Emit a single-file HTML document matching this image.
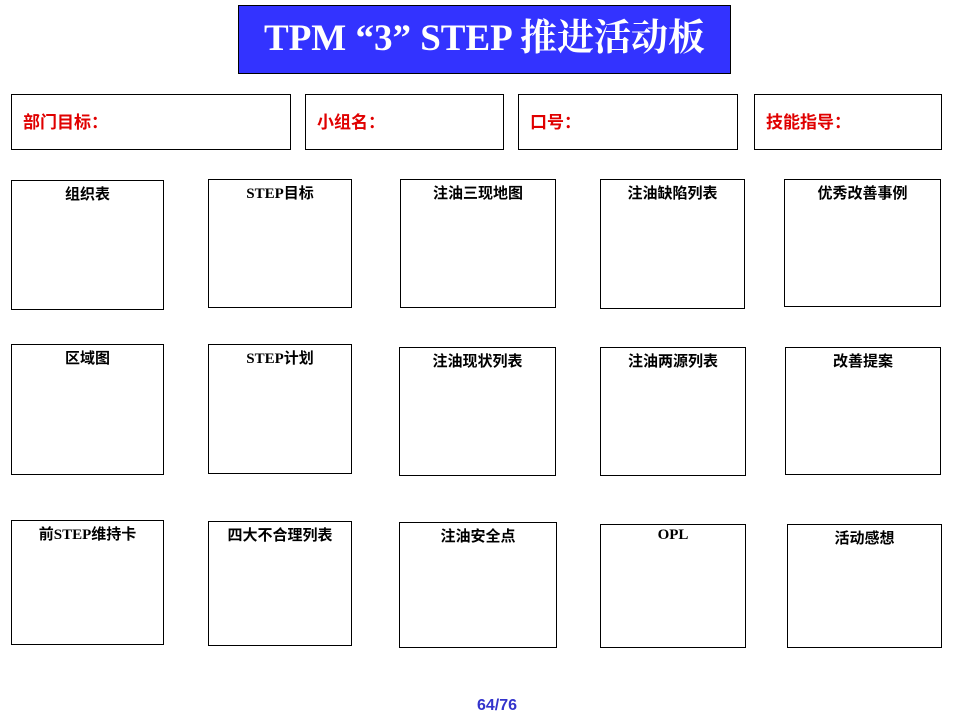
<!DOCTYPE html>
<html><head><meta charset="utf-8"><style>
body{margin:0;width:960px;height:720px;background:#fff;position:relative;overflow:hidden;font-family:"Liberation Serif","Noto Serif CJK SC","Noto Sans CJK SC",serif;}
.b{position:absolute;border:1px solid #000;box-sizing:border-box;background:#fff;}
.t{position:absolute;left:238px;top:5px;width:493px;height:69px;background:#3333ff;border:1px solid #000;box-sizing:border-box;color:#fff;font-weight:bold;font-size:37px;text-align:center;line-height:66px;}
.h{color:#e00000;font-weight:bold;font-size:17px;padding-left:11px;line-height:55px;font-family:"Liberation Sans","Noto Sans CJK SC",sans-serif;}
.g{text-align:center;font-weight:bold;font-size:15px;padding-top:2px;font-family:"Liberation Serif","Noto Sans CJK SC",serif;}
.f{position:absolute;left:0;width:994px;top:697px;text-align:center;color:#3333cc;font-weight:bold;font-size:16px;font-family:"Liberation Sans",sans-serif;}
</style></head><body>
<div class="t">TPM “3” STEP 推进活动板</div>
<div class="b h" style="left:11px;top:94px;width:280px;height:56px">部门目标：</div>
<div class="b h" style="left:305px;top:94px;width:199px;height:56px">小组名：</div>
<div class="b h" style="left:518px;top:94px;width:220px;height:56px">口号：</div>
<div class="b h" style="left:754px;top:94px;width:188px;height:56px">技能指导：</div>

<div class="b g" style="left:11px;top:180px;width:153px;height:130px">组织表</div>
<div class="b g" style="left:208px;top:179px;width:144px;height:129px">STEP目标</div>
<div class="b g" style="left:400px;top:179px;width:156px;height:129px">注油三现地图</div>
<div class="b g" style="left:600px;top:179px;width:145px;height:130px">注油缺陷列表</div>
<div class="b g" style="left:784px;top:179px;width:157px;height:128px">优秀改善事例</div>

<div class="b g" style="left:11px;top:344px;width:153px;height:131px">区域图</div>
<div class="b g" style="left:208px;top:344px;width:144px;height:130px">STEP计划</div>
<div class="b g" style="left:399px;top:347px;width:157px;height:129px">注油现状列表</div>
<div class="b g" style="left:600px;top:347px;width:146px;height:129px">注油两源列表</div>
<div class="b g" style="left:785px;top:347px;width:156px;height:128px">改善提案</div>

<div class="b g" style="left:11px;top:520px;width:153px;height:125px">前STEP维持卡</div>
<div class="b g" style="left:208px;top:521px;width:144px;height:125px">四大不合理列表</div>
<div class="b g" style="left:399px;top:522px;width:158px;height:126px">注油安全点</div>
<div class="b g" style="left:600px;top:524px;width:146px;height:124px">OPL</div>
<div class="b g" style="left:787px;top:524px;width:155px;height:124px">活动感想</div>

<div class="f">64/76</div>
</body></html>
